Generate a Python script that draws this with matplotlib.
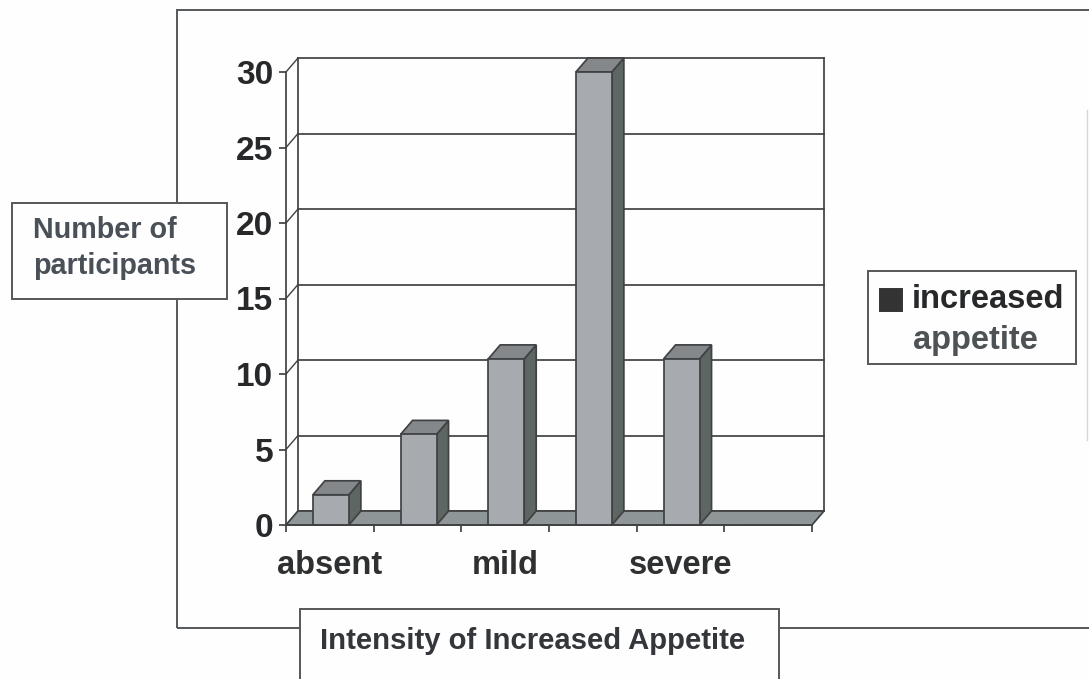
import matplotlib
matplotlib.use("Agg")
import matplotlib.pyplot as plt
from matplotlib.patches import Rectangle, Polygon
from matplotlib.lines import Line2D

categories = ["absent", "", "mild", "", "severe", ""]
values = [2, 6, 11, 30, 11, 0]
y_ticks = [0, 5, 10, 15, 20, 25, 30]
y_title_first = "Number of"
y_title_second = "participants"
x_title = "Intensity of Increased Appetite"
legend_first = "increased"
legend_second = "appetite"

W, H = 1089, 679
plt.rcParams["font.family"] = ["Liberation Sans", "DejaVu Sans"]
plt.rcParams["font.weight"] = "bold"

fig = plt.figure(figsize=(W / 100, H / 100), dpi=100, facecolor="#fefefe")

L, R, T, B = 286, 812, 72, 525
ax = fig.add_axes([L / W, 1 - B / H, (R - L) / W, (B - T) / H])
ax.patch.set_alpha(0)
ax.set_xlim(-0.5, len(values) - 0.5)
ax.set_ylim(0, 30)

EDGE = "#3f4143"
FRONT, TOP, SIDE, FLOOR = "#a7aaae", "#85888b", "#5e6664", "#8f9697"
DX = 12 / ((R - L) / len(values))
DY = 14 / ((B - T) / 30)
BW = 0.41
SHIFT = 0.012
LW = 1.25


def poly(pts, fc, z):
    ax.add_patch(Polygon(pts, closed=True, fc=fc, ec=EDGE, lw=LW, zorder=z, clip_on=False))


xa, xb = ax.get_xlim()
# walls, floor, gridlines
for v in y_ticks:
    ax.plot([xa + DX, xb + DX], [v + DY, v + DY], color=EDGE, lw=LW, zorder=1, clip_on=False)
    ax.plot([xa, xa + DX], [v, v + DY], color=EDGE, lw=1.0, zorder=1, clip_on=False)
ax.plot([xa + DX, xa + DX], [DY, 30 + DY], color=EDGE, lw=LW, zorder=1, clip_on=False)
ax.plot([xb + DX, xb + DX], [DY, 30 + DY], color=EDGE, lw=LW, zorder=1, clip_on=False)
poly([(xa, 0), (xb, 0), (xb + DX, DY), (xa + DX, DY)], FLOOR, 2)

# bars (front via the library's bar, plus 3D side and top)
for i, v in enumerate(values):
    if v <= 0:
        continue
    x0 = i - BW / 2 + SHIFT
    x1 = i + BW / 2 + SHIFT
    poly([(x1, 0), (x1 + DX, DY), (x1 + DX, v + DY), (x1, v)], SIDE, 3)
    poly([(x0, v), (x1, v), (x1 + DX, v + DY), (x0 + DX, v + DY)], TOP, 3)
bars = ax.bar([i + SHIFT for i in range(len(values))], values, width=BW, color=FRONT,
              edgecolor=EDGE, linewidth=LW, zorder=4)
for b in bars:
    b.set_clip_on(False)

for s in ("top", "right"):
    ax.spines[s].set_visible(False)
for s in ("left", "bottom"):
    ax.spines[s].set_color(EDGE)
    ax.spines[s].set_linewidth(LW)
    ax.spines[s].set_zorder(5)

ax.set_yticks(y_ticks)
ax.tick_params(axis="y", length=5, width=LW, color=EDGE, labelsize=24, labelcolor="#26282a", pad=4)
ax.set_xticks([i - 0.5 for i in range(len(values) + 1)])
ax.set_xticklabels([])
ax.set_xticks(range(len(values)), minor=True)
ax.set_xticklabels(categories, minor=True, fontsize=23.5, color="#2e3032")
ax.tick_params(axis="x", which="major", length=5, width=LW, color=EDGE)
ax.tick_params(axis="x", which="minor", length=0, pad=18)
for lab in ax.get_yticklabels() + ax.get_xticklabels(minor=True):
    lab.set_fontweight("bold")


def px(x, y):
    return x / W, 1 - y / H


def box(x0, y0, x1, y1, fc="#fefefe", ec="#555759", lw=1.4, z=6):
    fig.add_artist(Rectangle(px(x0, y1), (x1 - x0) / W, (y1 - y0) / H, transform=fig.transFigure,
                             fc=fc, ec=ec, lw=lw, zorder=z))


# outer frame
box(177, 10, 1200, 628, fc="none", ec="#55585a", z=0.5)
fig.add_artist(Line2D([1087 / W, 1087 / W], [1 - 110 / H, 1 - 440 / H], color="#d5d8d8", lw=1.0,
                      transform=fig.transFigure))

# y title box
box(12, 203, 227, 299)
fig.text(*px(33, 238), y_title_first, ha="left", va="baseline", fontsize=20.7, color="#4a5058",
         fontweight="bold", zorder=7)
fig.text(*px(33, 274), y_title_second, ha="left", va="baseline", fontsize=20.7, color="#4a5058",
         fontweight="bold", zorder=7)

# x title box, open at the bottom edge
box(300, 609, 779, 700)
fig.text(*px(533, 641), x_title, ha="center", va="center", fontsize=21.1, color="#33363a",
         fontweight="bold", zorder=7)

# legend
box(868, 271, 1076, 364)
box(880, 289, 902, 311, fc="#333333", ec="#333333", z=7)
fig.text(*px(988, 300), legend_first, ha="center", va="center", fontsize=23.5, color="#26282a",
         fontweight="bold", zorder=7)
fig.text(*px(975, 341), legend_second, ha="center", va="center", fontsize=23.5, color="#4d5355",
         fontweight="bold", zorder=7)

fig.savefig("out.png", dpi=100, facecolor=fig.get_facecolor())
